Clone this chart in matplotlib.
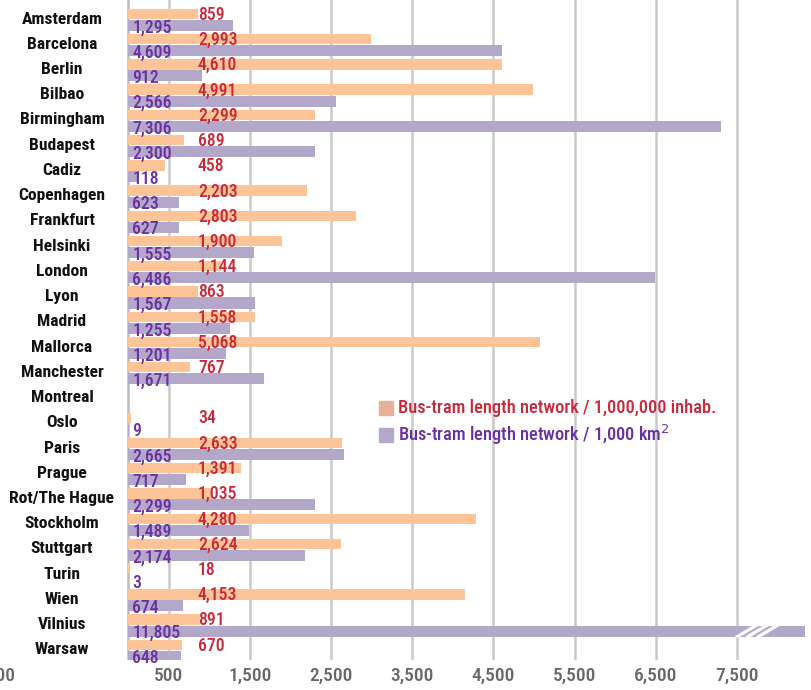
import numpy as np
import matplotlib
matplotlib.use("Agg")
import matplotlib.pyplot as plt
from matplotlib.patches import Polygon
from matplotlib.transforms import ScaledTranslation

cities = ["Amsterdam", "Barcelona", "Berlin", "Bilbao", "Birmingham", "Budapest", "Cadiz",
          "Copenhagen", "Frankfurt", "Helsinki", "London", "Lyon", "Madrid", "Mallorca",
          "Manchester", "Montreal", "Oslo", "Paris", "Prague", "Rot/The Hague", "Stockholm",
          "Stuttgart", "Turin", "Wien", "Vilnius", "Warsaw"]
per_inhab = [859, 2993, 4610, 4991, 2299, 689, 458, 2203, 2803, 1900, 1144, 863, 1558, 5068,
             767, np.nan, 34, 2633, 1391, 1035, 4280, 2624, 18, 4153, 891, 670]
per_km2 = [1295, 4609, 912, 2566, 7306, 2300, 118, 623, 627, 1555, 6486, 1567, 1255, 1201,
           1671, np.nan, 9, 2665, 717, 2299, 1489, 2174, 3, 674, 11805, 648]
tick_vals = [-1500, 500, 1500, 2500, 3500, 4500, 5500, 6500, 7500]
series_names = ["Bus-tram length network / 1,000,000 inhab.",
                "Bus-tram length network / 1,000 km$^{2}$"]

ORANGE = "#fdc597"
PURPLE = "#b3a8ca"
RED_T = "#c8283a"
PURP_T = "#6a30a0"
COND = ["Roboto Condensed", "Archivo Narrow", "PT Sans Narrow", "Liberation Sans Narrow",
        "Liberation Sans", "DejaVu Sans"]

fig = plt.figure(figsize=(8.11, 6.9), dpi=100)
ax = fig.add_axes([0, 30 / 690, 805 / 811, 660 / 690])
XMIN, XMAX = -1576, 8337
ax.set_xlim(XMIN, XMAX)
n = len(cities)
ax.set_ylim(25.40, -0.753)

y = np.arange(n)
inh = np.array(per_inhab, dtype=float)
km = np.array(per_km2, dtype=float)

# grid lines
for t in tick_vals:
    if t > 0:
        ax.axvline(t, color="#c9c9c9", lw=1.8, zorder=0)
ax.axvline(0, color="#bdbdbd", lw=1.8, zorder=0)

ax.barh(y - 0.20, np.nan_to_num(inh), height=0.41, color=ORANGE, zorder=2)
ax.barh(y + 0.255, np.nan_to_num(km), height=0.44, color=PURPLE, zorder=2)

# break marks on the overflowing bar
for i, v in enumerate(km):
    if not np.isnan(v) and v > XMAX:
        yc = i + 0.255
        h = 0.22
        for k in range(3):
            x0 = 7480 + k * 130
            poly = Polygon([[x0, yc + h], [x0 + 45, yc + h], [x0 + 45 + 230, yc - h], [x0 + 230, yc - h]],
                           closed=True, color="white", zorder=3)
            ax.add_patch(poly)

for i in range(n):
    ax.text(-813, i, cities[i], ha="center", va="center", fontsize=12.6, fontweight="bold",
            family=COND, color="#111111", zorder=5)
    if not np.isnan(inh[i]):
        ax.text(862, i - 0.17, f"{int(inh[i]):,}", ha="left", va="center", fontsize=12.8,
                fontweight="medium", family=COND, color=RED_T, zorder=5)
    if not np.isnan(km[i]):
        ax.text(55, i + 0.34, f"{int(km[i]):,}", ha="left", va="center", fontsize=12.8,
                fontweight="medium", family=COND, color=PURP_T, zorder=5)

# legend
leg_items = [("#e8b09a", RED_T), ("#b4a7cb", PURP_T)]
for k, (sq, tc) in enumerate(leg_items):
    yy = 15.4 + k * 1.07
    ax.add_patch(plt.Rectangle((3091, yy - 0.28), 172, 0.56, color=sq, zorder=4))
    ax.text(3325, yy, series_names[k], ha="left", va="center", fontsize=13.2,
            fontweight="medium", family=COND, color=tc, zorder=5)

ax.set_xticks(tick_vals)
ax.set_xticklabels([f"{t:,}".replace("-", "\u2212") for t in tick_vals])
ax.tick_params(axis="x", length=0, pad=5, labelsize=14, labelcolor="#666666")
for lab in ax.get_xticklabels():
    lab.set_family(COND)
    lab.set_fontweight("medium")
first = ax.get_xticklabels()[0]
first.set_transform(first.get_transform() + ScaledTranslation(-0.17, 0, fig.dpi_scale_trans))
ax.set_yticks([])
for s in ax.spines.values():
    s.set_visible(False)

fig.savefig("out.png", dpi=100)
